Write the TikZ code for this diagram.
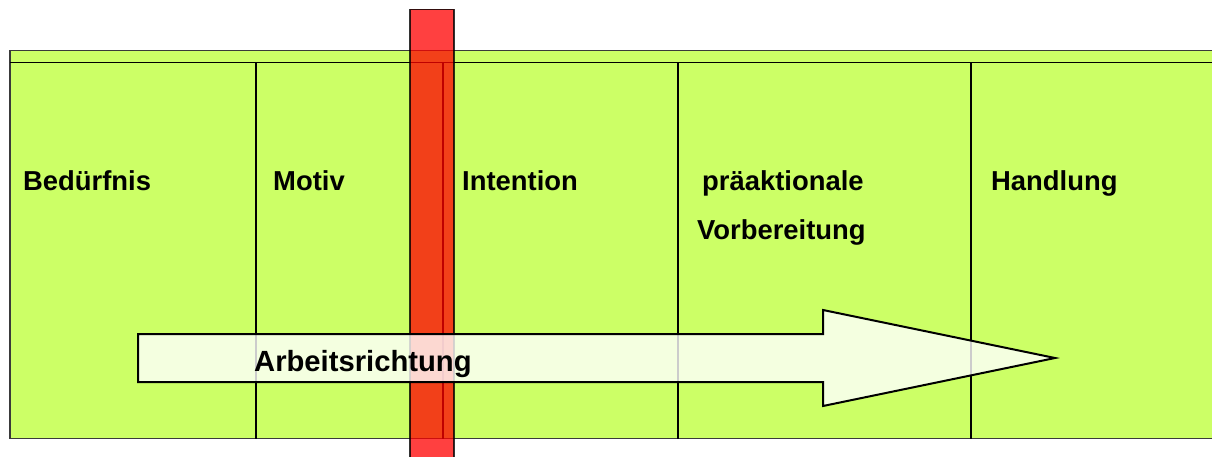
\documentclass[tikz,border=0pt]{standalone}
\usepackage{fontspec}
\setmainfont{Liberation Sans}
\definecolor{phasegreen}{HTML}{CCFF66}
\definecolor{edgegray}{HTML}{3A3A3A}
\tikzset{
  phase/.style={anchor=base west, inner sep=0pt, font=\fontsize{27.4}{31}\selectfont\bfseries},
  divider/.style={line width=1.5pt, black},
  marker/.style={fill=red, fill opacity=0.75, draw=black, draw opacity=0.8, line width=1.2pt},
  direction/.style={fill=white, fill opacity=0.8, draw=black, line width=2pt, line join=miter}
}
\begin{document}
\begin{tikzpicture}[x=1pt,y=-1pt]
  \useasboundingbox (0,0) rectangle (1212,457);
  % phase band with header strip
  \fill[phasegreen] (10,50.5) rectangle (1214,438.5);
  \draw[edgegray, line width=1.4pt] (1214,50.5) -- (10,50.5) -- (10,438.5) -- (1214,438.5);
  \draw[divider] (10,62.5) -- (1214,62.5);
  % column dividers
  \foreach \xx in {256,443,678,971}
    \draw[divider] (\xx,62.5) -- (\xx,438.5);
  % phase labels
  \node[phase] (beduerfnis) at (23,191) {Bedürfnis};
  \node[phase] (motiv) at (273,191) {Motiv};
  \node[phase] (intention) at (462,191) {Intention};
  \node[phase] (praeakt) at (702,191) {präaktionale};
  \node[phase] (vorber) at (697,239.5) {Vorbereitung};
  \node[phase] (handlung) at (991,191) {Handlung};
  % red marker bar
  \path[marker] (410,9.5) rectangle (454,460);
  % working direction arrow
  \path[direction] (138,334) -- (823,334) -- (823,310) -- (1055,358)
    -- (823,406) -- (823,382) -- (138,382) -- cycle;
  \node[anchor=base west, inner sep=0pt, font=\fontsize{29.2}{33}\selectfont\bfseries] (arbeit) at (254,371) {Arbeitsrichtung};
\end{tikzpicture}
\end{document}
